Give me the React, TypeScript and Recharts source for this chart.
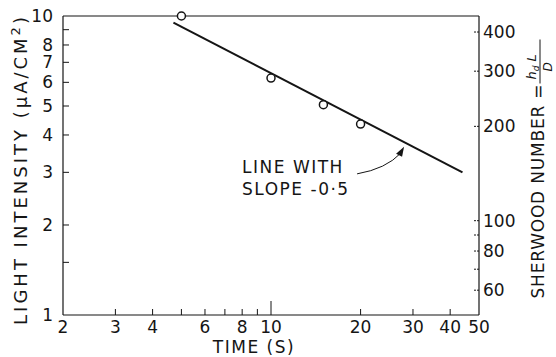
import React from "react";
import {
  ComposedChart,
  XAxis,
  YAxis,
  Line,
  Scatter,
  ReferenceDot,
  Label,
} from "recharts";

// tiempo (s) en escala log
const xTicks = [2, 3, 4, 5, 6, 7, 8, 9, 10, 20, 30, 40, 50];
const xTickLabels = [2, 3, 4, 6, 8, 10, 20, 30, 40, 50];
const xTopTicks = [3, 4, 5, 6, 7, 8, 9, 10, 20, 30, 40];

// intensidad de luz
const yTicks = [1, 1.5, 2, 3, 4, 5, 6, 7, 8, 9, 10];
const yTickLabels = [1, 2, 3, 4, 5, 6, 7, 8, 10];

// número de Sherwood (eje derecho)
const shTicks = [60, 70, 80, 90, 100, 200, 300, 400];
const shTickLabels = [60, 80, 100, 200, 300, 400];

// puntos medidos
const measured = [
  { x: 5, y: 10 },
  { x: 10, y: 6.2 },
  { x: 15, y: 5.05 },
  { x: 20, y: 4.35 },
];

// recta de pendiente -0.5
const slopeLine = [
  { x: 4.7, y: 9.5 },
  { x: 44, y: 3.0 },
];

// punto donde apunta la flecha
const arrowTarget = { x: 28, y: 3.65 };

const INK = "#151515";
const FONT = "'DejaVu Sans', sans-serif";

const BottomTick = (props: any) => {
  const { x, y, payload } = props;
  const v = payload.value;
  const len = v === 10 ? 14 : 6;
  return (
    <g>
      {v !== 2 && v !== 50 && (
        <line x1={x} y1={y} x2={x} y2={y - len} stroke={INK} strokeWidth={1} />
      )}
      {xTickLabels.includes(v) && (
        <text x={x} y={y + 18} textAnchor="middle" fontSize={17} fontFamily={FONT} fill={INK}>
          {v}
        </text>
      )}
    </g>
  );
};

const TopTick = (props: any) => {
  const { x, y, payload } = props;
  const len = payload.value === 10 ? 12 : 6;
  return <line x1={x} y1={y} x2={x} y2={y + len} stroke={INK} strokeWidth={1} />;
};

const LeftTick = (props: any) => {
  const { x, y, payload } = props;
  const v = payload.value;
  return (
    <g>
      {v !== 1 && v !== 10 && (
        <line x1={x} y1={y} x2={x + 6} y2={y} stroke={INK} strokeWidth={1} />
      )}
      {yTickLabels.includes(v) && (
        <text x={x - 10} y={y} dy="0.36em" textAnchor="end" fontSize={17} fontFamily={FONT} fill={INK}>
          {v}
        </text>
      )}
    </g>
  );
};

const RightTick = (props: any) => {
  const { x, y, payload } = props;
  const v = payload.value;
  return (
    <g>
      <line x1={x} y1={y} x2={x - 6} y2={y} stroke={INK} strokeWidth={1} strokeDasharray="2 1" />
      {shTickLabels.includes(v) && (
        <text x={x + 4} y={y} dy="0.36em" textAnchor="start" fontSize={17} fontFamily={FONT} fill={INK}>
          {v}
        </text>
      )}
    </g>
  );
};

const OpenCircle = (props: any) => {
  const { cx, cy } = props;
  return <circle cx={cx} cy={cy} r={4} fill="#fff" stroke={INK} strokeWidth={1.5} />;
};

const SlopeNote = (props: any) => {
  const { cx, cy } = props;
  if (cx == null || cy == null) return null;
  const sx = cx - 47;
  const sy = cy + 27;
  return (
    <g>
      <path
        d={`M${sx},${sy} Q${cx - 18},${cy + 22} ${cx - 3},${cy + 6}`}
        fill="none"
        stroke={INK}
        strokeWidth={1}
      />
      <path d={`M${cx},${cy} L${cx - 8},${cy + 7} L${cx - 2},${cy + 10} Z`} fill={INK} />
      <text x={cx - 162} y={cy + 26} fontSize={17} fontFamily={FONT} fill={INK} letterSpacing={1.5}>
        LINE WITH
      </text>
      <text x={cx - 162} y={cy + 48} fontSize={17} fontFamily={FONT} fill={INK} letterSpacing={1.5}>
        SLOPE -0·5
      </text>
    </g>
  );
};

const XTitle = (props: any) => {
  const vb = props.viewBox || {};
  return (
    <text
      x={vb.x + vb.width / 2 - 17}
      y={vb.y + 38}
      textAnchor="middle"
      fontSize={17}
      fontFamily={FONT}
      fill={INK}
      letterSpacing={1.5}
    >
      TIME (S)
    </text>
  );
};

const LeftTitle = (props: any) => {
  const vb = props.viewBox || {};
  const cx = vb.x + vb.width - 36;
  const cy = vb.y + vb.height / 2 + 4;
  return (
    <text
      transform={`translate(${cx},${cy}) rotate(-90)`}
      textAnchor="middle"
      fontSize={18}
      fontFamily={FONT}
      fill={INK}
      letterSpacing={3}
    >
      LIGHT INTENSITY (μA/CM
      <tspan dy={-7} fontSize={13}>2</tspan>
      <tspan dy={7}>)</tspan>
    </text>
  );
};

const RightTitle = (props: any) => {
  const vb = props.viewBox || {};
  const cx = vb.x + 59;
  const cy = vb.y + vb.height / 2 + 4;
  return (
    <g transform={`translate(${cx},${cy}) rotate(-90)`} fill={INK} fontFamily={FONT}>
      <text x={-129} y={6} fontSize={17} letterSpacing={0.8}>
        SHERWOOD NUMBER =
      </text>
      <text x={90} y={-2} fontSize={13} fontStyle="italic">
        h
        <tspan dy={3} fontSize={9}>d</tspan>
        <tspan dy={-3}> L</tspan>
      </text>
      <line x1={86} y1={2} x2={130} y2={2} stroke={INK} strokeWidth={1} />
      <text x={98} y={14} fontSize={12} fontStyle="italic">
        D
      </text>
    </g>
  );
};

export default function App() {
  return (
    <div style={{ position: "absolute", left: 0, top: 0, background: "#fff" }}>
      <ComposedChart
        width={556}
        height={357}
        margin={{ top: 10, right: 20, bottom: 12, left: 13 }}
      >
        <XAxis
          xAxisId="bottom"
          dataKey="x"
          type="number"
          scale="log"
          domain={[2, 50]}
          ticks={xTicks}
          interval={0}
          height={30}
          tickSize={0}
          tickMargin={0}
          tickLine={false}
          axisLine={{ stroke: INK, strokeWidth: 1.2 }}
          tick={<BottomTick />}
        >
          <Label content={<XTitle />} />
        </XAxis>
        <XAxis
          xAxisId="top"
          orientation="top"
          type="number"
          scale="log"
          domain={[2, 50]}
          ticks={xTopTicks}
          interval={0}
          allowDataOverflow
          height={6}
          tickSize={0}
          tickMargin={0}
          tickLine={false}
          axisLine={{ stroke: INK, strokeWidth: 1.2 }}
          tick={<TopTick />}
        />
        <YAxis
          yAxisId="left"
          type="number"
          scale="log"
          domain={[1, 10]}
          ticks={yTicks}
          interval={0}
          width={50}
          tickSize={0}
          tickMargin={0}
          tickLine={false}
          axisLine={{ stroke: INK, strokeWidth: 1.2 }}
          tick={<LeftTick />}
        >
          <Label content={<LeftTitle />} />
        </YAxis>
        <YAxis
          yAxisId="right"
          orientation="right"
          type="number"
          scale="log"
          domain={[50, 450]}
          ticks={shTicks}
          interval={0}
          allowDataOverflow
          width={57}
          tickSize={0}
          tickMargin={0}
          tickLine={false}
          axisLine={{ stroke: INK, strokeWidth: 1.2 }}
          tick={<RightTick />}
        >
          <Label content={<RightTitle />} />
        </YAxis>
        <Line
          xAxisId="bottom"
          yAxisId="left"
          data={slopeLine}
          dataKey="y"
          type="linear"
          stroke={INK}
          strokeWidth={2}
          dot={false}
          activeDot={false}
          isAnimationActive={false}
        />
        <Scatter
          xAxisId="bottom"
          yAxisId="left"
          data={measured}
          dataKey="y"
          shape={<OpenCircle />}
          isAnimationActive={false}
        />
        <ReferenceDot
          xAxisId="bottom"
          yAxisId="left"
          x={arrowTarget.x}
          y={arrowTarget.y}
          shape={<SlopeNote />}
          ifOverflow="visible"
        />
      </ComposedChart>
    </div>
  );
}
